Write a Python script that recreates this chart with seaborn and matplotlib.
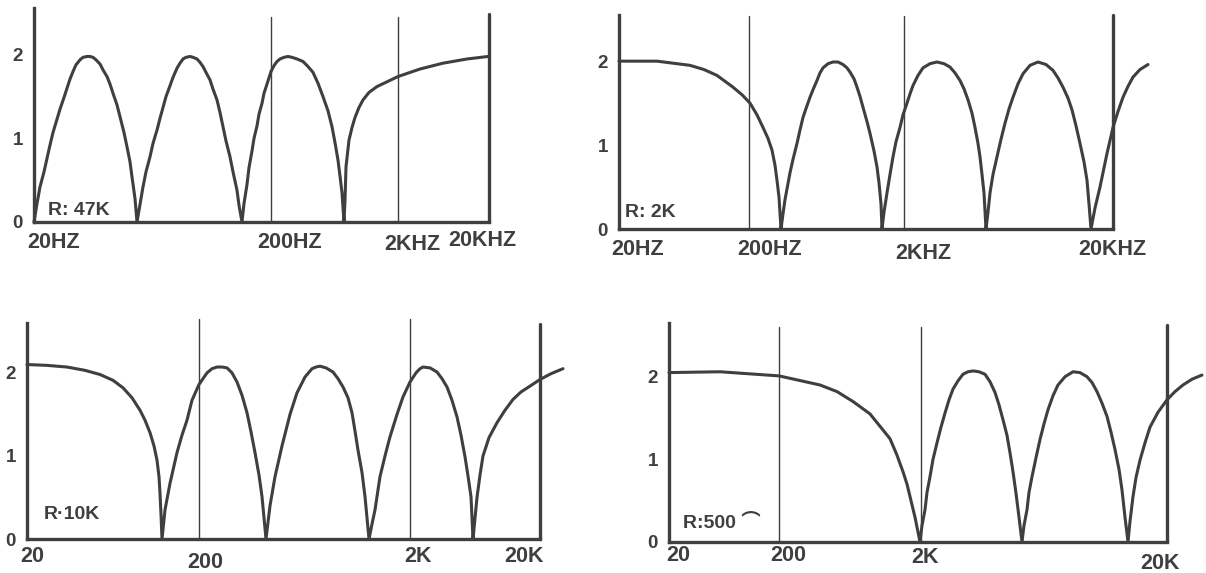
import matplotlib
matplotlib.use('Agg')
import matplotlib.pyplot as plt
import matplotlib.font_manager as fm
from matplotlib.transforms import ScaledTranslation
import seaborn as sns

# ---- waarden afgelezen van de scan ----
# x = positie langs de getekende frequentie-as (0 = 20 Hz), y = relatief niveau

# R: 47K
pos_47k = [0, 3, 6, 10, 13, 16, 19, 23, 26, 30, 33, 36, 39, 42, 46, 49, 53, 56, 59, 62, 66, 69, 73, 76,
           79, 83, 86, 90, 93, 96, 98, 101, 103,
           106, 109, 112, 116, 119, 123, 126, 129, 132, 136, 139, 143, 146, 149, 152, 156, 159, 163, 166,
           169, 172, 176, 179, 183, 186, 189, 192, 196, 199, 203, 205, 208,
           210, 213, 215, 218, 220, 223, 225, 228, 230, 233, 237, 240, 243, 246, 250, 254, 258, 263, 269,
           274, 279, 284, 289, 294, 298, 301, 304, 306, 308, 310,
           311, 312, 315, 318, 321, 325, 329, 335, 343, 364, 386, 409, 433, 454]
lvl_47k = [0, 0.22, 0.42, 0.6, 0.76, 0.92, 1.07, 1.23, 1.35, 1.49, 1.6, 1.71, 1.8, 1.88, 1.94, 1.97, 1.98,
           1.98, 1.97, 1.94, 1.89, 1.82, 1.74, 1.65, 1.54, 1.4, 1.26, 1.07, 0.9, 0.72, 0.54, 0.28, 0,
           0.21, 0.42, 0.6, 0.78, 0.94, 1.1, 1.24, 1.37, 1.5, 1.63, 1.73, 1.84, 1.9, 1.95, 1.97, 1.98, 1.97,
           1.95, 1.91, 1.86, 1.79, 1.7, 1.59, 1.46, 1.31, 1.14, 0.97, 0.78, 0.6, 0.38, 0.2, 0,
           0.22, 0.45, 0.65, 0.85, 1.0, 1.15, 1.29, 1.42, 1.54, 1.65, 1.8, 1.87, 1.92, 1.95, 1.97, 1.98,
           1.97, 1.95, 1.92, 1.86, 1.79, 1.66, 1.5, 1.33, 1.14, 0.95, 0.74, 0.55, 0.35, 0,
           0.26, 0.66, 0.98, 1.13, 1.25, 1.37, 1.46, 1.55, 1.62, 1.74, 1.83, 1.9, 1.95, 1.98]
labels_47k = ['20HZ', '200HZ', '2KHZ', '20KHZ']
labelpos_47k = [20, 256, 378, 448]
lines_47k = [237, 364]
edge_47k = 455

# R: 2K
pos_2k = [0, 38, 71, 85, 98, 114, 123, 131, 138, 144, 149, 153, 156, 158, 160, 161, 162,
          164, 166, 171, 174, 178, 181, 184, 188, 191, 194, 198, 201, 204, 209, 214, 219, 224, 228,
          231, 235, 238, 241, 244, 248, 251, 255, 258, 260, 262, 263,
          265, 268, 271, 274, 277, 281, 284, 288, 291, 294, 299, 304, 311, 318, 325, 331, 336,
          341, 345, 349, 353, 356, 359, 361, 363, 365, 367,
          369, 371, 374, 378, 382, 386, 390, 394, 399, 404, 411, 419, 427, 434, 439, 444, 449,
          453, 457, 461, 465, 468, 470, 472,
          476, 481, 488, 494, 499, 504, 509, 514, 521, 529]
lvl_2k = [2.0, 2.0, 1.95, 1.9, 1.83, 1.69, 1.6, 1.5, 1.36, 1.21, 1.08, 0.94, 0.76, 0.58, 0.38, 0.19, 0,
          0.18, 0.35, 0.67, 0.83, 1.02, 1.18, 1.33, 1.47, 1.57, 1.66, 1.77, 1.86, 1.92, 1.97, 1.99, 1.99,
          1.96, 1.92, 1.87, 1.79, 1.69, 1.58, 1.45, 1.28, 1.14, 0.93, 0.74, 0.55, 0.3, 0,
          0.2, 0.43, 0.65, 0.86, 1.04, 1.21, 1.36, 1.5, 1.61, 1.71, 1.83, 1.92, 1.97, 1.99, 1.97, 1.93,
          1.86, 1.77, 1.67, 1.54, 1.38, 1.21, 1.02, 0.86, 0.65, 0.43, 0,
          0.2, 0.43, 0.65, 0.86, 1.07, 1.26, 1.43, 1.57, 1.73, 1.85, 1.95, 1.99, 1.96, 1.89, 1.8, 1.69,
          1.56, 1.42, 1.23, 1.02, 0.8, 0.58, 0.3, 0,
          0.25, 0.5, 0.9, 1.21, 1.4, 1.57, 1.7, 1.81, 1.9, 1.96]
labels_2k = ['20HZ', '200HZ', '2KHZ', '20KHZ']
labelpos_2k = [19, 151, 304, 493]
lines_2k = [130, 285]
edge_2k = 494

# R: 10K
pos_10k = [0, 20, 40, 58, 73, 86, 96, 105, 113, 118, 123, 127, 130, 132, 133, 134, 135,
           138, 143, 150, 155, 160, 165, 172, 180, 185, 190, 195, 200, 205, 210, 215, 220, 224, 228,
           232, 235, 239,
           243, 248, 255, 263, 270, 278, 285, 289, 293, 299, 306, 311, 316, 321, 325, 328, 331, 335,
           338, 342,
           345, 348, 353, 358, 363, 370, 376, 383, 389, 393, 396, 403, 410, 415, 420, 425, 430, 434,
           438, 441, 444, 446,
           448, 450, 453, 456, 462, 470, 478, 486, 494, 503, 513, 524, 536]
lvl_10k = [2.1, 2.09, 2.07, 2.03, 1.98, 1.91, 1.82, 1.7, 1.55, 1.43, 1.28, 1.12, 0.95, 0.75, 0.55, 0.3, 0,
           0.35, 0.67, 1.04, 1.25, 1.43, 1.67, 1.86, 2.0, 2.05, 2.07, 2.07, 2.06, 2.0, 1.89, 1.73, 1.52,
           1.29, 1.04, 0.77, 0.51, 0,
           0.4, 0.75, 1.12, 1.5, 1.76, 1.95, 2.05, 2.07, 2.08, 2.06, 2.01, 1.93, 1.83, 1.7, 1.52, 1.3,
           1.07, 0.8, 0.51, 0,
           0.18, 0.35, 0.75, 1.0, 1.23, 1.5, 1.71, 1.89, 2.0, 2.05, 2.07, 2.06, 2.01, 1.93, 1.83, 1.67,
           1.47, 1.25, 0.99, 0.76, 0.51, 0,
           0.25, 0.5, 0.77, 1.0, 1.22, 1.4, 1.55, 1.68, 1.77, 1.84, 1.92, 1.99, 2.05]
labels_10k = ['20', '200', '2K', '20K']
labelpos_10k = [5, 178, 391, 497]
lines_10k = [172, 383]
edge_10k = 513

# R: 500
pos_500 = [0, 51, 110, 151, 168, 184, 201, 211, 221, 228, 234, 238, 242, 246, 249, 251,
           253, 256, 258, 261, 264, 268, 272, 276, 280, 284, 289, 294, 299, 304, 310, 316, 321, 326,
           330, 334, 338, 341, 344, 347, 350, 353,
           355, 358, 360, 363, 367, 371, 375, 379, 384, 389, 396, 404, 411, 418, 423, 428, 433, 438,
           442, 446, 450, 453, 456, 459,
           461, 464, 467, 471, 476, 481, 489, 498, 506, 514, 523, 533]
lvl_500 = [2.05, 2.06, 2.01, 1.9, 1.82, 1.7, 1.55, 1.4, 1.25, 1.05, 0.85, 0.7, 0.5, 0.3, 0.12, 0,
           0.2, 0.39, 0.6, 0.79, 1.0, 1.2, 1.39, 1.56, 1.72, 1.85, 1.95, 2.03, 2.06, 2.07, 2.06, 2.03,
           1.94, 1.81, 1.66, 1.48, 1.29, 1.08, 0.85, 0.59, 0.3, 0,
           0.2, 0.39, 0.6, 0.79, 1.02, 1.24, 1.43, 1.6, 1.77, 1.9, 2.0, 2.06, 2.05, 2.0, 1.93, 1.82,
           1.68, 1.52, 1.33, 1.12, 0.88, 0.63, 0.3, 0,
           0.25, 0.55, 0.78, 0.99, 1.2, 1.39, 1.57, 1.72, 1.82, 1.9, 1.97, 2.02]
labels_500 = ['20', '200', '2K', '20K']
labelpos_500 = [9, 119, 256, 491]
lines_500 = [110, 252]
edge_500 = 498

level_ticks = [0, 1, 2]
r_texts = ['R: 47K', 'R: 2K', 'R·10K', 'R:500 ⌒']

sns.set_style('white')
names = {f.name for f in fm.fontManager.ttflist}
if 'Liberation Sans Narrow' in names:
    base_font, lab_size, r_size = 'Liberation Sans Narrow', 16.5, 15
else:
    base_font, lab_size, r_size = 'Liberation Sans', 15.5, 14
plt.rcParams['font.family'] = [base_font, 'Noto Sans CJK JP', 'DejaVu Sans']
plt.rcParams['font.weight'] = 'bold'

INK = '#3f3f3f'
W, H = 1206, 573
fig = plt.figure(figsize=(W / 100, H / 100), dpi=100)
fig.patch.set_facecolor('white')

# layout in pixels: left, top, baseline, xmax, ytop, thin-line top, edge top, tick pad, label drops, R-pos
panels = [
    dict(pos=pos_47k, lvl=lvl_47k, labels=labels_47k, lpos=labelpos_47k, lines=lines_47k, edge=edge_47k,
         left=34, top=8, base=222, xmax=458, ytop=2.56, thin=0.958, etop=0.97, pad=7,
         drops=[0, 0, 2, -2], rpos=(45, 0.14), text=r_texts[0]),
    dict(pos=pos_2k, lvl=lvl_2k, labels=labels_2k, lpos=labelpos_2k, lines=lines_2k, edge=edge_2k,
         left=619, top=15, base=229, xmax=531, ytop=2.55, thin=0.995, etop=1.0, pad=7.5,
         drops=[0, 0, 4, 0], rpos=(31, 0.2), text=r_texts[1]),
    dict(pos=pos_10k, lvl=lvl_10k, labels=labels_10k, lpos=labelpos_10k, lines=lines_10k, edge=edge_10k,
         left=27, top=323, base=539, xmax=538, ytop=2.6, thin=1.02, etop=0.995, pad=5,
         drops=[0, 6, 0, 0], rpos=(45, 0.29), text=r_texts[2]),
    dict(pos=pos_500, lvl=lvl_500, labels=labels_500, lpos=labelpos_500, lines=lines_500, edge=edge_500,
         left=669, top=323, base=542, xmax=535, ytop=2.65, thin=0.98, etop=0.99, pad=2,
         drops=[0, 0, 2, 8], rpos=(53, 0.22), text=r_texts[3]),
]

for p in panels:
    ax = fig.add_axes([p['left'] / W, (H - p['base']) / H, p['xmax'] / W, (p['base'] - p['top']) / H])
    ax.patch.set_alpha(0)
    sns.lineplot(x=p['pos'], y=p['lvl'], ax=ax, color=INK, linewidth=2.2,
                 estimator=None, sort=False, clip_on=False)
    ax.set_xlim(0, p['xmax'])
    ax.set_ylim(0, p['ytop'])

    for x in p['lines']:
        ax.axvline(x, ymin=0, ymax=p['thin'], color=INK, linewidth=1.0, clip_on=False)
    ax.axvline(p['edge'], ymin=0, ymax=p['etop'], color=INK, linewidth=2.4, clip_on=False)

    for side in ['top', 'right']:
        ax.spines[side].set_visible(False)
    for side in ['left', 'bottom']:
        ax.spines[side].set_linewidth(2.4)
        ax.spines[side].set_color(INK)
    ax.spines['bottom'].set_bounds(0, p['edge'])

    ax.set_yticks(level_ticks)
    ax.set_yticklabels([str(v) for v in level_ticks], fontsize=13.5, fontweight='bold', color=INK)
    ax.tick_params(axis='y', direction='out', length=7, width=1.0, color=INK, pad=1)

    ax.set_xticks(p['lpos'])
    ax.set_xticklabels(p['labels'], fontsize=lab_size, fontweight='bold', color=INK)
    ax.tick_params(axis='x', length=0, pad=p['pad'])
    for lab, d in zip(ax.get_xticklabels(), p['drops']):
        lab.set_transform(lab.get_transform() + ScaledTranslation(0, -d / 100, fig.dpi_scale_trans))

    ax.set_xlabel('')
    ax.set_ylabel('')
    ax.text(p['rpos'][0], p['rpos'][1], p['text'], fontsize=r_size, fontweight='bold',
            color=INK, ha='center', va='center')

fig.savefig('out.png', dpi=100)
